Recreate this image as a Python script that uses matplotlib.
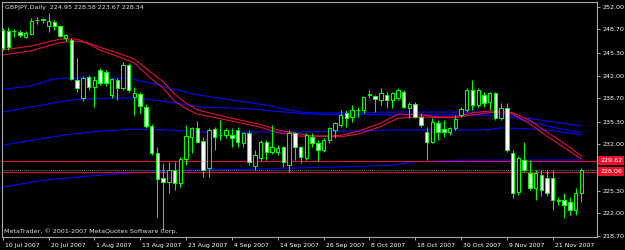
import matplotlib
matplotlib.use('Agg')
import matplotlib.pyplot as plt
import matplotlib.transforms as mtransforms
import numpy as np

# ---------------- data ----------------
symbol_title = "GBPJPY,Daily  224.95 228.58 223.67 228.34"
copyright_text = "MetaTrader, \u00a9 2001-2007 MetaQuotes Software Corp."

tick_idx = [0, 8, 16, 24, 32, 40, 48, 56, 64, 72, 80, 88, 96]
tick_labels = ['10 Jul 2007', '20 Jul 2007', '1 Aug 2007', '13 Aug 2007', '23 Aug 2007',
               '4 Sep 2007', '14 Sep 2007', '26 Sep 2007', '8 Oct 2007', '18 Oct 2007',
               '30 Oct 2007', '9 Nov 2007', '21 Nov 2007']

opens = [248.62, 248.47, 248.40, 248.33, 247.60, 248.04, 250.00, 250.07, 249.20, 249.78,
         249.20, 247.45, 247.16, 241.36, 238.74, 241.79, 240.34, 242.81, 242.52, 239.18,
         241.36, 240.19, 243.53, 238.89, 239.32, 237.43, 234.68, 230.75, 227.12, 226.54,
         228.29, 226.40, 229.88, 233.08, 234.38, 232.50, 228.58, 234.24, 233.37, 233.37,
         233.37, 234.09, 232.21, 233.66, 228.87, 230.03, 232.35, 230.90, 230.90, 231.63,
         229.01, 233.66, 231.63, 230.03, 233.08, 232.21, 231.19, 232.64, 234.09, 234.82,
         236.56, 235.98, 236.93, 237.00, 239.18, 239.03, 238.45, 239.18, 238.45, 238.74,
         239.61, 237.29, 237.87, 235.98, 233.80, 232.35, 235.11, 234.24, 233.80, 234.38,
         236.27, 237.00, 239.90, 237.72, 239.18, 238.16, 239.47, 235.84, 237.29, 230.75,
         225.09, 229.74, 227.85, 225.67, 227.56, 227.12, 227.12, 223.78, 223.93, 223.64,
         222.48, 224.95]
highs = [248.91, 249.05, 248.76, 248.62, 248.47, 250.36, 250.50, 250.36, 251.09, 250.07,
         249.34, 248.04, 247.45, 244.55, 241.94, 242.08, 241.94, 243.10, 242.81, 241.65,
         241.65, 243.97, 243.82, 240.34, 239.61, 237.87, 234.97, 231.63, 229.30, 229.45,
         229.45, 230.17, 234.82, 234.53, 235.40, 233.08, 234.38, 234.53, 235.55, 234.38,
         234.38, 234.53, 233.80, 234.09, 231.19, 232.64, 232.64, 234.82, 231.92, 231.77,
         234.09, 233.80, 231.77, 233.66, 233.66, 232.64, 232.93, 234.53, 235.26, 237.00,
         237.00, 237.72, 237.43, 238.89, 239.90, 239.18, 240.19, 239.61, 239.61, 240.19,
         239.90, 238.16, 238.16, 236.56, 234.53, 235.84, 235.55, 235.55, 234.53, 236.27,
         237.43, 240.19, 241.36, 240.19, 239.61, 239.61, 239.61, 238.02, 238.02, 231.19,
         230.32, 232.35, 229.74, 228.29, 228.29, 228.29, 228.29, 224.37, 224.95, 224.37,
         225.67, 228.58]
lows = [245.71, 245.71, 247.60, 247.60, 247.45, 247.89, 249.49, 249.63, 248.33, 248.62,
        247.60, 247.02, 241.36, 239.61, 238.31, 239.90, 237.43, 240.63, 240.48, 238.74,
        238.45, 239.90, 239.61, 236.27, 236.56, 234.38, 230.46, 221.46, 219.43, 224.95,
        225.38, 225.82, 229.01, 230.75, 232.20, 227.27, 227.27, 231.19, 232.64, 232.93,
        231.63, 231.63, 231.63, 229.01, 228.29, 229.59, 229.74, 230.61, 230.46, 228.72,
        228.00, 229.74, 229.30, 229.74, 231.63, 229.59, 230.90, 232.21, 232.93, 234.53,
        234.53, 235.26, 235.98, 236.56, 238.74, 236.71, 237.72, 237.29, 237.29, 238.45,
        237.29, 235.84, 235.84, 234.53, 229.74, 232.21, 232.64, 233.08, 233.37, 234.09,
        235.98, 236.71, 237.00, 237.43, 237.43, 237.00, 235.55, 235.55, 230.90, 224.22,
        224.66, 228.00, 225.38, 223.93, 224.51, 224.51, 222.48, 223.20, 221.32, 221.75,
        221.75, 223.67]
closes = [246.00, 246.15, 248.47, 247.89, 248.18, 249.92, 250.07, 250.14, 249.92, 249.20,
          247.75, 247.89, 241.50, 240.19, 241.65, 240.34, 241.36, 240.92, 240.92, 241.50,
          240.19, 243.53, 239.90, 239.47, 237.58, 234.68, 230.75, 226.98, 226.54, 228.29,
          226.40, 229.88, 233.22, 234.38, 232.35, 228.29, 234.09, 233.08, 233.44, 234.09,
          232.93, 232.35, 233.66, 229.45, 230.46, 232.35, 230.90, 231.63, 231.48, 229.45,
          233.66, 231.63, 230.17, 233.37, 232.21, 231.19, 232.64, 234.38, 235.11, 236.27,
          235.84, 237.00, 237.00, 238.89, 239.25, 238.60, 239.47, 238.45, 239.47, 239.90,
          237.43, 237.87, 235.98, 234.82, 232.35, 235.26, 233.80, 233.80, 234.38, 235.69,
          237.14, 239.90, 237.72, 239.90, 238.02, 239.47, 235.84, 237.29, 231.19, 224.95,
          230.03, 228.29, 225.67, 227.85, 225.38, 224.95, 223.93, 223.86, 223.20, 222.48,
          224.95, 228.34]

# moving averages (bar index knots, price values)
red1_idx = [0, 5, 10, 13, 15, 17, 20, 23, 26, 28, 30, 32, 34, 40, 45, 48, 52, 55, 59, 62,
            66, 69, 73, 76, 79, 82, 85, 88, 89, 92, 95, 99, 101]
red1_val = [245.7, 246.3, 247.3, 247.3, 246.6, 245.7, 244.8, 243.8, 241.5, 240.2, 238.3, 237.2,
            236.4, 235.4, 234.5, 233.7, 233.2, 233.2, 233.3, 233.9, 235.1, 236.4, 236.3, 236.0,
            236.0, 236.6, 236.85, 236.7, 236.4, 235.0, 233.2, 231.0, 229.9]
red2_idx = red1_idx
red2_val = [245.0, 245.6, 246.8, 247.0, 246.7, 246.1, 245.3, 244.4, 242.4, 241.1, 239.3, 238.0,
            237.0, 235.8, 234.9, 234.1, 233.5, 233.2, 233.1, 233.5, 234.6, 235.8, 236.0, 235.9,
            235.9, 236.3, 236.6, 236.7, 236.6, 235.5, 233.8, 231.6, 230.3]
blue1_idx = [0, 5, 8, 10, 17, 22, 26, 29, 34, 40, 46, 52, 55, 69, 86, 90, 95, 101]
blue1_val = [240.0, 240.5, 241.3, 241.6, 241.7, 241.6, 240.9, 240.2, 239.2, 238.45, 237.7,
             236.7, 236.55, 236.7, 236.7, 236.0, 235.4, 234.7]
blue2_idx = [0, 6, 12, 17, 23, 27, 31, 35, 43, 47, 54, 70, 80, 88, 92, 96, 101]
blue2_val = [236.7, 237.6, 238.45, 238.7, 238.75, 238.4, 237.9, 237.4, 237.2, 236.85, 236.4,
             236.3, 236.3, 236.1, 235.3, 234.5, 233.7]
blue3_idx = [0, 5, 11, 17, 23, 29, 34, 52, 69, 84, 87, 94, 101]
blue3_val = [231.9, 232.6, 233.4, 233.95, 234.2, 234.1, 233.8, 233.8, 234.1, 234.1, 234.4,
             234.2, 233.4]
blue4_idx = [0, 7, 15, 22, 26, 34, 43, 57, 64, 68, 72, 80, 101]
blue4_val = [225.8, 226.8, 227.4, 227.85, 228.0, 228.3, 228.4, 228.7, 228.85, 229.0, 229.5,
             229.7, 229.75]

level_lines = [229.62, 228.06]
bid_price = 228.34

ytick_vals = [252.00, 248.70, 245.30, 242.00, 238.70, 235.30, 232.00, 225.30, 222.00, 218.70]

# ---------------- style ----------------
GREEN = '#00ff00'
RED = '#dc143c'
BLUE = '#0000ff'
FRAME = '#a8a8a8'
FS = 4.6

fig = plt.figure(figsize=(6.25, 2.5), dpi=100, facecolor='black')
ax = fig.add_axes([2 / 625, 13 / 250, 595 / 625, 235 / 250])
ax.set_facecolor('black')

x = np.arange(len(opens))
o = np.array(opens); h = np.array(highs); l = np.array(lows); c = np.array(closes)
bull = c >= o

# moving averages
for idx, val, col in [(blue4_idx, blue4_val, BLUE), (blue3_idx, blue3_val, BLUE),
                      (blue2_idx, blue2_val, BLUE), (blue1_idx, blue1_val, BLUE),
                      (red2_idx, red2_val, RED), (red1_idx, red1_val, RED)]:
    ax.plot(idx, val, color=col, lw=0.8, zorder=2)

# horizontal levels and bid line
for lv in level_lines:
    ax.axhline(lv, color=RED, lw=0.8, zorder=2)
ax.axhline(bid_price, color='#808080', lw=0.7, ls=(0, (1, 1)), zorder=2)

# candles
ax.vlines(x, l, h, color=GREEN, lw=0.75, zorder=3)
ax.bar(x, np.abs(c - o), bottom=np.minimum(o, c), width=0.6,
       color=['black' if b else 'white' for b in bull],
       edgecolor=GREEN, linewidth=0.75, zorder=4)

ax.set_xlim(-0.12, 103.73)
ax.set_ylim(218.56, 252.68)

for side in ['top', 'left', 'right', 'bottom']:
    ax.spines[side].set_color(FRAME)
    ax.spines[side].set_linewidth(0.8)

ax.yaxis.tick_right()
ax.set_yticks(ytick_vals)
ax.set_yticklabels([f'{v:.2f}' for v in ytick_vals])
ax.tick_params(axis='y', direction='out', length=2.5, width=0.7, color=FRAME,
               labelcolor='white', labelsize=FS, pad=1.5)

ax.set_xticks(tick_idx)
ax.set_xticklabels(tick_labels, ha='left')
ax.tick_params(axis='x', direction='out', length=2.5, width=0.7, color=FRAME,
               labelcolor='white', labelsize=4.4, pad=1.5)
off = mtransforms.ScaledTranslation(2 / 100, 0, fig.dpi_scale_trans)
for lab in ax.get_xticklabels():
    lab.set_transform(lab.get_transform() + off)

# price labels for horizontal lines
for lv in level_lines:
    ax.annotate(f'{lv:.2f}', xy=(1, lv), xycoords=('axes fraction', 'data'),
                xytext=(2.2, 0), textcoords='offset points', ha='left', va='center',
                color='white', fontsize=FS,
                bbox=dict(boxstyle='square,pad=0.3', fc='#e8102a', ec='none'),
                annotation_clip=False, zorder=10)

ax.text(3 / 595, 1 - 5.5 / 235, symbol_title, transform=ax.transAxes, color='#e0e0e0',
        fontsize=FS, ha='left', va='center', zorder=10)
ax.text(2 / 595, 6 / 235, copyright_text, transform=ax.transAxes, color='#e0e0e0',
        fontsize=FS, ha='left', va='center', zorder=10)

fig.savefig('out.png', dpi=100, facecolor='black')
